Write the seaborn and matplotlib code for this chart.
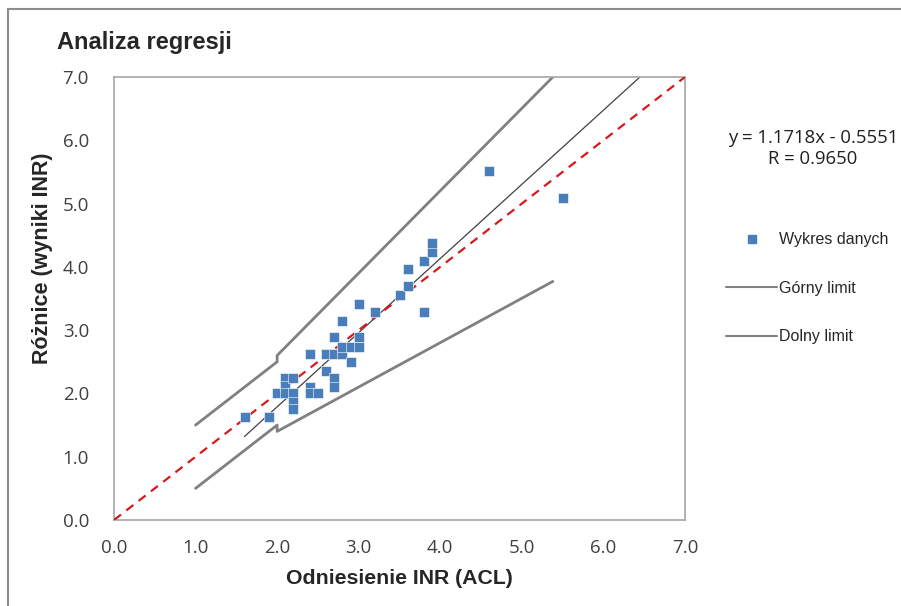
import numpy as np
import pandas as pd
import seaborn as sns
from matplotlib import pyplot as plt
from matplotlib.lines import Line2D
from matplotlib.patches import Rectangle

# dane
odniesienie = [1.6, 1.9, 2.0, 2.1, 2.1, 2.1, 2.2, 2.2, 2.2, 2.2, 2.4, 2.4, 2.4, 2.5,
               2.6, 2.6, 2.7, 2.7, 2.7, 2.7, 2.8, 2.8, 2.8, 2.9, 2.9, 3.0, 3.0, 3.0,
               3.2, 3.5, 3.6, 3.6, 3.8, 3.8, 3.9, 3.9, 4.6, 5.5]
roznice = [1.62, 1.62, 2.0, 2.24, 2.12, 2.0, 2.24, 2.0, 1.87, 1.75, 2.62, 2.1, 2.0, 2.0,
           2.36, 2.62, 2.62, 2.24, 2.1, 2.89, 2.62, 2.74, 3.15, 2.49, 2.74, 2.74, 2.89, 3.41,
           3.29, 3.55, 3.70, 3.96, 4.10, 3.29, 4.24, 4.38, 5.51, 5.09]

gorny_x = [1.0, 2.0, 2.0, 5.38]
gorny_y = [1.5, 2.5, 2.6, 7.0]
dolny_x = [1.0, 2.0, 2.0, 5.38]
dolny_y = [0.5, 1.5, 1.4, 3.77]
identycznosc = [0.0, 7.0]
nachylenie, wyraz_wolny, r = 1.1718, -0.5551, 0.9650
regresja_x = [1.6, 6.45]

sns.set_style("white")
plt.rcParams['font.family'] = ['Liberation Sans', 'DejaVu Sans']

fig = plt.figure(figsize=(9.01, 6.06), dpi=100)
ax = fig.add_axes([114/901, 1 - 520/606, (685 - 114)/901, (520 - 77)/606])

dane = pd.DataFrame({"x": odniesienie, "y": roznice})
sns.lineplot(x=identycznosc, y=identycznosc, ax=ax, color="#d7191c", lw=1.6,
             linestyle=(0, (4, 3)), zorder=3)
sns.lineplot(x=gorny_x, y=gorny_y, ax=ax, sort=False, estimator=None, color="#808080", lw=2, zorder=2)
sns.lineplot(x=dolny_x, y=dolny_y, ax=ax, sort=False, estimator=None, color="#808080", lw=2, zorder=2)
reg_y = [nachylenie * v + wyraz_wolny for v in regresja_x]
sns.lineplot(x=regresja_x, y=reg_y, ax=ax, color="#404040", lw=0.9, zorder=2)
sns.scatterplot(data=dane, x="x", y="y", ax=ax, marker="s", s=45, color="#4a7ebb",
                edgecolor="white", linewidth=0.4, zorder=4)

ax.set_xlim(0, 7)
ax.set_ylim(0, 7)
ticks = np.arange(0, 8, 1)
ax.set_xticks(ticks)
ax.set_yticks(ticks)
ax.set_xticklabels([f"{t:.1f}" for t in ticks], family="Open Sans", fontsize=13.5, color="#404040")
ax.set_yticklabels([f"{t:.1f}" for t in ticks], family="Open Sans", fontsize=13.5, color="#404040")
ax.tick_params(axis="both", direction="out", length=5, width=1, color="#b0b0b0")
ax.tick_params(axis="y", pad=13)
ax.tick_params(axis="x", pad=9)
for s in ax.spines.values():
    s.set_color("#a6a6a6")
    s.set_linewidth(1.2)

ax.set_xlabel("Odniesienie INR (ACL)", fontsize=15.3, fontweight="bold", labelpad=8)
ax.set_ylabel("Różnice (wyniki INR)", fontsize=15.5, fontweight="bold")
ax.yaxis.set_label_coords(-0.107, 0.59)
fig.text(57/901, 1 - 42/606, "Analiza regresji", fontsize=17, fontweight="bold", va="center")

fig.text(813/901, 1 - 138/606, f"y = {nachylenie:.4f}x - {abs(wyraz_wolny):.4f}",
         family="Open Sans", fontsize=13.3, ha="center", va="center", color="#202020")
fig.text(813/901, 1 - 159/606, f"R = {r:.4f}", family="Open Sans", fontsize=13.3,
         ha="center", va="center", color="#202020")

uchwyty = [
    Line2D([], [], marker="s", linestyle="none", color="#4a7ebb", markersize=6),
    Line2D([], [], color="#808080", lw=1.5),
    Line2D([], [], color="#808080", lw=1.5),
]
fig.legend(uchwyty, ["Wykres danych", "Górny limit", "Dolny limit"],
           loc="upper left", bbox_to_anchor=(712/901, 1 - 218/606), frameon=False,
           fontsize=11.5, handlelength=3.2, handletextpad=0.1, labelspacing=2.1)

fig.patches.append(Rectangle((8/901, -0.1), 1.2, 1 - 9/606 + 0.1, transform=fig.transFigure,
                             fill=False, edgecolor="#8c8c8c", lw=1.5))

fig.savefig("out.png", dpi=100)
